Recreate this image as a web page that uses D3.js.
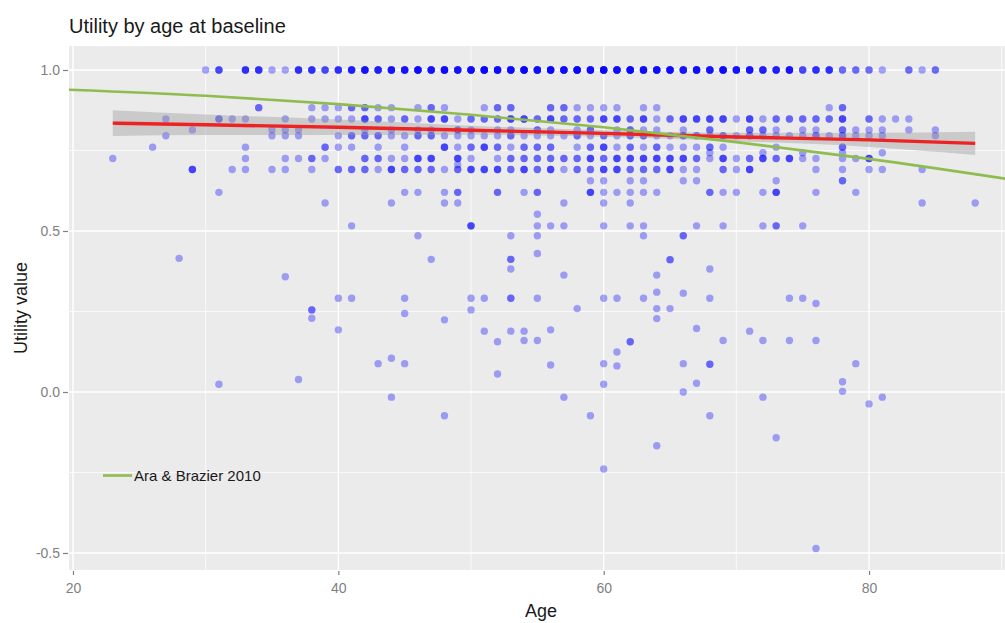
<!DOCTYPE html>
<html>
<head>
<meta charset="utf-8">
<script src="https://cdn.jsdelivr.net/npm/d3@7"></script>
<style>
  body { margin: 0; background: #ffffff; }
  text { font-family: "Liberation Sans", Arial, sans-serif; }
</style>
</head>
<body>
<svg id="chart" width="1005" height="623"></svg>
<script>
// ---- Axis ticks ----
const ageTicks = [20, 40, 60, 80];
const ageMinorTicks = [30, 50, 70, 90];
const utilityTicks = [-0.5, 0.0, 0.5, 1.0];
const utilityMinorTicks = [-0.25, 0.25, 0.75];

// ---- Respondents: [age, number of respondents] at each EQ-5D utility level ----
const at1000 = [[30,1],[31,3],[33,4],[34,4],[35,1],[36,1],[37,4],[38,4],[39,3],[40,4],[41,5],[42,6],[43,5],[44,6],[45,6],[46,7],[47,6],[48,7],[49,6],[50,7],[51,8],[52,7],[53,7],[54,8],[55,7],[56,8],[57,7],[58,8],[59,7],[60,8],[61,7],[62,8],[63,7],[64,7],[65,7],[66,6],[67,7],[68,6],[69,7],[70,6],[71,6],[72,5],[73,5],[74,6],[75,3],[76,4],[77,4],[78,2],[79,2],[80,2],[81,1],[83,2],[84,1],[85,2]];
const at0883 = [[34,2],[38,1],[39,1],[40,1],[41,2],[42,2],[43,1],[44,1],[46,1],[47,2],[48,1],[51,1],[52,2],[53,2],[56,2],[57,2],[58,1],[59,1],[60,1],[61,1],[63,1],[64,1],[77,1],[78,2]];
const at0848 = [[27,1],[31,2],[32,1],[33,1],[36,1],[38,1],[39,1],[40,1],[41,1],[42,3],[43,2],[44,1],[45,2],[46,1],[47,3],[48,3],[49,1],[50,2],[51,2],[52,2],[53,3],[54,3],[55,2],[56,3],[57,2],[58,2],[59,2],[60,3],[61,3],[62,2],[63,3],[64,1],[65,2],[66,3],[67,3],[68,3],[69,3],[70,1],[71,3],[72,1],[73,2],[74,2],[75,2],[76,2],[77,2],[78,3],[80,2],[81,1],[82,1],[83,1]];
const at0814 = [[29,1],[35,1],[36,1],[37,1],[42,1],[44,1],[46,1],[47,1],[49,2],[50,1],[52,1],[53,1],[55,2],[56,1],[58,1],[59,2],[61,1],[62,2],[63,1],[64,1],[66,1],[68,2],[71,2],[72,2],[73,1],[75,1],[76,1],[78,2],[79,1],[80,1],[81,1],[83,1],[85,1]];
const at0796 = [[27,1],[35,1],[36,1],[37,1],[40,1],[41,2],[42,2],[43,2],[44,1],[45,1],[46,2],[47,2],[48,1],[49,1],[50,1],[51,1],[52,1],[53,2],[54,1],[55,1],[56,1],[57,1],[58,2],[59,1],[60,2],[61,1],[62,2],[63,2],[64,1],[65,1],[66,2],[67,2],[68,1],[69,2],[70,1],[71,2],[72,1],[73,1],[74,1],[75,1],[76,2],[77,1],[78,2],[79,1],[80,1],[81,1],[85,1]];
const at0760 = [[26,1],[33,1],[39,2],[40,1],[41,1],[43,1],[45,1],[48,3],[49,1],[50,2],[51,3],[52,2],[53,1],[54,2],[55,2],[56,2],[58,1],[59,2],[60,3],[61,1],[62,2],[63,1],[64,2],[65,1],[66,1],[67,1],[68,2],[69,1],[73,1],[78,2]];
const at0743 = [[68,1],[72,1],[75,1],[78,1],[81,1]];
const at0725 = [[23,1],[33,1],[36,1],[37,1],[38,2],[39,1],[42,2],[43,2],[44,1],[45,1],[46,3],[47,3],[49,3],[50,1],[52,1],[53,2],[54,2],[55,2],[56,2],[57,2],[58,2],[59,3],[60,2],[61,3],[62,3],[63,3],[64,3],[65,3],[66,3],[67,2],[68,1],[69,3],[70,1],[71,2],[72,3],[73,2],[74,3],[75,1],[76,1],[78,1],[79,1],[80,3]];
const at0706 = [[49,1]];
const at0691 = [[29,3],[32,1],[33,1],[35,1],[36,1],[38,1],[40,2],[41,2],[42,2],[43,1],[44,3],[45,2],[46,2],[47,2],[48,1],[49,2],[50,3],[51,3],[52,3],[53,2],[54,3],[55,2],[56,3],[57,1],[58,2],[59,2],[60,3],[61,3],[62,2],[63,2],[64,2],[65,3],[66,1],[67,1],[69,2],[70,1],[71,3],[76,1],[78,1],[80,1],[81,1],[84,1]];
const at0656 = [[59,1],[60,1],[62,1],[63,1],[66,1],[67,1],[73,1],[78,2]];
const at0620 = [[31,1],[45,1],[46,1],[48,1],[49,2],[52,2],[54,1],[55,2],[59,3],[60,1],[61,1],[62,1],[63,1],[64,1],[68,2],[69,1],[70,1],[72,1],[73,3],[76,1],[79,1]];
const at0587 = [[39,1],[44,1],[48,1],[49,1],[57,1],[60,1],[62,1],[84,1],[88,1]];
const at0552 = [[55,1]];
const at0516 = [[41,1],[50,3],[55,1],[56,1],[57,1],[60,1],[62,1],[63,1],[67,1],[69,1],[72,1],[73,2],[75,1]];
const at0485 = [[46,1],[53,1],[55,1],[63,1],[66,2]];

const utilityLevels = [
  [1.000, at1000], [0.883, at0883], [0.848, at0848], [0.814, at0814],
  [0.796, at0796], [0.760, at0760], [0.743, at0743], [0.725, at0725],
  [0.706, at0706], [0.691, at0691], [0.656, at0656], [0.620, at0620],
  [0.587, at0587], [0.552, at0552], [0.516, at0516], [0.485, at0485]
];

// Lower utilities: [age, utility, number of respondents]
const lowerUtilityPoints = [[28,0.415,1],[36,0.358,1],[38,0.255,2],[38,0.229,1],[40,0.291,1],[40,0.193,1],[41,0.291,1],[31,0.024,1],[37,0.039,1],[43,0.088,1],[44,0.105,1],[44,-0.016,1],[45,0.088,1],[45,0.291,1],[45,0.244,1],[47,0.412,1],[48,-0.074,1],[48,0.224,1],[50,0.291,1],[50,0.255,1],[51,0.291,1],[51,0.189,1],[52,0.156,1],[52,0.056,1],[53,0.412,2],[53,0.382,1],[53,0.291,2],[53,0.189,1],[54,0.189,1],[54,0.160,1],[55,0.430,1],[55,0.291,1],[55,0.160,1],[56,0.193,1],[56,0.084,1],[57,0.363,1],[57,-0.016,1],[58,0.259,1],[59,-0.074,1],[60,0.291,1],[60,0.088,1],[60,0.024,1],[60,-0.239,1],[61,0.291,1],[61,0.124,1],[61,0.081,1],[62,0.156,2],[63,0.291,1],[64,0.363,1],[64,0.310,1],[64,0.259,1],[64,0.228,1],[64,-0.167,1],[65,0.411,2],[65,0.259,1],[66,0.307,1],[66,0.088,1],[66,0.000,1],[67,0.197,1],[67,0.027,1],[68,0.382,1],[68,0.291,1],[68,0.086,2],[68,-0.074,1],[69,0.160,1],[71,0.189,1],[72,0.160,1],[72,-0.016,1],[73,-0.142,1],[74,0.291,1],[74,0.160,1],[75,0.291,1],[76,0.275,1],[76,0.160,1],[76,-0.486,1],[78,0.032,1],[78,0.002,1],[79,0.088,1],[80,-0.037,1],[81,-0.016,1]];

// ---- Loess smooth of utility on age, with its standard-error band ----
const smoothAge = [23, 30, 40, 50, 60, 70, 80, 88];
const smoothFit = [0.835, 0.830, 0.822, 0.813, 0.803, 0.792, 0.783, 0.772];
const smoothSe  = [0.040, 0.032, 0.024, 0.014, 0.010, 0.013, 0.022, 0.036];

// ---- Ara & Brazier 2010 population norms ----
const araAge = [19.5, 30, 40, 50, 60, 70, 80, 91];
const araUtility = [0.939, 0.920, 0.894, 0.861, 0.822, 0.776, 0.724, 0.658];
const araLabel = "Ara & Brazier 2010";

// ---- Layout ----
const svg = d3.select("#chart");
const panel = { left: 69, right: 1013, top: 46, bottom: 570 };

const x = d3.scaleLinear().domain([19.7, 90.85]).range([panel.left, panel.right]);
const y = d3.scaleLinear().domain([-0.5528, 1.0745]).range([panel.bottom, panel.top]);

svg.append("defs").append("clipPath").attr("id", "panel-clip")
  .append("rect")
  .attr("x", panel.left).attr("y", panel.top)
  .attr("width", panel.right - panel.left).attr("height", panel.bottom - panel.top);

// Panel background
svg.append("rect")
  .attr("x", panel.left).attr("y", panel.top)
  .attr("width", panel.right - panel.left).attr("height", panel.bottom - panel.top)
  .attr("fill", "#ebebeb");

// Grid lines
const grid = svg.append("g").attr("clip-path", "url(#panel-clip)");
grid.selectAll(".vminor").data(ageMinorTicks).join("line")
  .attr("x1", d => x(d)).attr("x2", d => x(d))
  .attr("y1", panel.top).attr("y2", panel.bottom)
  .attr("stroke", "#ffffff").attr("stroke-width", 0.7);
grid.selectAll(".hminor").data(utilityMinorTicks).join("line")
  .attr("y1", d => y(d)).attr("y2", d => y(d))
  .attr("x1", panel.left).attr("x2", panel.right)
  .attr("stroke", "#ffffff").attr("stroke-width", 0.7);
grid.selectAll(".vmajor").data(ageTicks).join("line")
  .attr("x1", d => x(d)).attr("x2", d => x(d))
  .attr("y1", panel.top).attr("y2", panel.bottom)
  .attr("stroke", "#ffffff").attr("stroke-width", 1.4);
grid.selectAll(".hmajor").data(utilityTicks).join("line")
  .attr("y1", d => y(d)).attr("y2", d => y(d))
  .attr("x1", panel.left).attr("x2", panel.right)
  .attr("stroke", "#ffffff").attr("stroke-width", 1.4);

// Expand the points so each respondent is one translucent dot
const points = [];
utilityLevels.forEach(([u, rows]) => {
  rows.forEach(([age, n]) => { for (let i = 0; i < n; i++) points.push({ age, u }); });
});
lowerUtilityPoints.forEach(([age, u, n]) => {
  for (let i = 0; i < n; i++) points.push({ age, u });
});

const plot = svg.append("g").attr("clip-path", "url(#panel-clip)");

plot.append("g").selectAll("circle").data(points).join("circle")
  .attr("cx", d => x(d.age))
  .attr("cy", d => y(d.u))
  .attr("r", 3.7)
  .attr("fill", "#0000ff")
  .attr("fill-opacity", 0.34);

// Confidence band and smooth
const smooth = smoothAge.map((a, i) => ({ a, fit: smoothFit[i], se: smoothSe[i] }));
plot.append("path").datum(smooth)
  .attr("d", d3.area().curve(d3.curveMonotoneX)
    .x(d => x(d.a)).y0(d => y(d.fit - d.se)).y1(d => y(d.fit + d.se)))
  .attr("fill", "#999999").attr("fill-opacity", 0.4);

plot.append("path").datum(smooth)
  .attr("d", d3.line().curve(d3.curveMonotoneX).x(d => x(d.a)).y(d => y(d.fit)))
  .attr("fill", "none").attr("stroke", "#ee2222").attr("stroke-width", 3.4);

// Reference population norm
const ara = araAge.map((a, i) => ({ a, u: araUtility[i] }));
const araColor = "#8fbc4e";
plot.append("path").datum(ara)
  .attr("d", d3.line().curve(d3.curveMonotoneX).x(d => x(d.a)).y(d => y(d.u)))
  .attr("fill", "none").attr("stroke", araColor).attr("stroke-width", 2.6);

// Axes
const tickColor = "#7f7f7f";
const yAxis = svg.append("g").attr("transform", `translate(${panel.left - 1},0)`)
  .call(d3.axisLeft(y).tickValues(utilityTicks).tickFormat(d => d.toFixed(1))
    .tickSize(5).tickPadding(3));
const xAxis = svg.append("g").attr("transform", `translate(0,${panel.bottom + 1})`)
  .call(d3.axisBottom(x).tickValues(ageTicks).tickFormat(d3.format("d"))
    .tickSize(4).tickPadding(8));
[xAxis, yAxis].forEach(g => {
  g.select(".domain").remove();
  g.selectAll(".tick line").attr("stroke", tickColor).attr("stroke-width", 1.2);
  g.selectAll(".tick text")
    .attr("fill", tickColor)
    .style("font-family", '"Liberation Sans", Arial, sans-serif')
    .style("font-size", "14px");
});

// Titles
svg.append("text")
  .attr("x", 69).attr("y", 33)
  .attr("fill", "#1a1a1a")
  .style("font-size", "20px")
  .text("Utility by age at baseline");

svg.append("text")
  .attr("x", (panel.left + panel.right) / 2).attr("y", 617)
  .attr("text-anchor", "middle")
  .attr("fill", "#1a1a1a")
  .style("font-size", "18px")
  .text("Age");

svg.append("text")
  .attr("transform", `translate(27,${(panel.top + panel.bottom) / 2}) rotate(-90)`)
  .attr("text-anchor", "middle")
  .attr("fill", "#1a1a1a")
  .style("font-size", "18px")
  .text("Utility value");

// Legend inside the panel
const legend = svg.append("g").attr("transform", "translate(103,475.5)");
legend.append("line")
  .attr("x1", 0).attr("x2", 29).attr("y1", 0).attr("y2", 0)
  .attr("stroke", araColor).attr("stroke-width", 2.6);
legend.append("text")
  .attr("x", 31).attr("y", 5.5)
  .attr("fill", "#1a1a1a")
  .style("font-size", "15px")
  .text(araLabel);
</script>
</body>
</html>
